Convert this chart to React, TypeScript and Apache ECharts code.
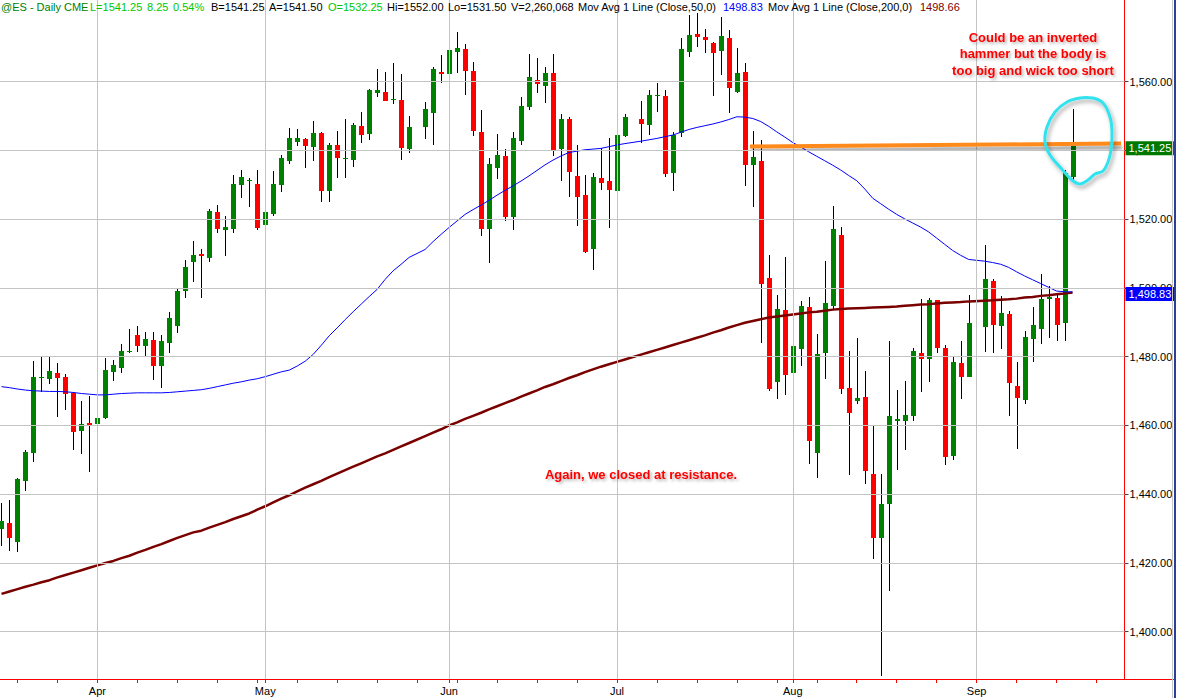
import React, { useEffect, useRef } from "react";
import * as echarts from "echarts";

// ---------- DATA ----------
const START_DATE = "2007-03-15";
const SLOT_COUNT = 141; // weekday slots on the time axis (incl. empty right margin)
const HOLIDAYS = ["2007-05-28", "2007-07-04", "2007-09-03"]; // empty slots (null data)
const MONTH_NAMES = ["Jan", "Feb", "Mar", "Apr", "May", "Jun", "Jul", "Aug", "Sep", "Oct", "Nov", "Dec"];
const PRICE_TICKS = [1400, 1420, 1440, 1460, 1480, 1500, 1520, 1540, 1560];

const opens = [
  1429.9, 1431.7, 1426.2, 1443.9, 1452.1, 1473.7, 1473.6, 1475.3, 1474.1, 1469.5, 1458.5, 1460.7,
  1460.4, 1462.1, 1475.6, 1476.8, 1481.4, 1486.3, 1483.2, 1484.9, 1477.4, 1484.1,
  1489.0, 1499.0, 1507.6, 1509.8, 1508.8, 1522.1, 1516.9, 1517.1, 1529.9, 1531.2,
  1530.2, 1518.4, 1521.5, 1529.9, 1537.0, 1542.5, 1543.3, 1541.1, 1545.1, 1528.3,
  1541.6, 1537.5, 1537.2, 1547.1, 1544.8, 1556.8, 1557.0, 1554.8, 1554.7, 1540.5,
  null, 1546.9, 1551.0, 1562.8, 1562.2, 1568.7, 1569.5, 1563.1, 1545.4, 1517.1,
  1535.0, 1538.4, 1520.7, 1542.8, 1552.6, 1560.5, 1558.8, 1562.4, 1540.5, 1549.2,
  1532.7, 1527.1, 1511.3, 1531.9, 1531.1, 1528.3, 1544.2, null, 1549.2, 1547.4,
  1555.8, 1555.8, 1533.5, 1545.0, 1568.7, 1573.9, 1573.0, 1571.3, 1569.0, 1572.8,
  1557.1, 1562.9, 1535.8, 1536.9, 1503.0, 1472.6, 1493.6, 1475.3, 1482.3, 1494.5,
  1452.1, 1481.2, 1494.7, 1515.4, 1470.8, 1467.2, 1468.3, 1445.9, 1427.2, 1437.1,
  1461.4, 1461.4, 1462.8, 1481.1, 1479.4, 1496.5, 1482.6, 1451.1, 1478.3, 1474.2,
  null, 1488.7, 1502.0, 1489.0, 1492.4, 1471.6, 1467.4, 1485.1, 1488.0, 1496.8,
  1497.2, 1489.9, 1532.25,
];
const highs = [
  1437.4, 1438.3, 1444.8, 1452.9, 1478.7, 1480.0, 1480.0, 1478.3, 1475.0, 1469.8, 1467.2, 1468.6,
  1464.9, 1479.5, 1479.0, 1483.7, 1488.0, 1488.9, 1487.3, 1487.3, 1486.3, 1493.0,
  1500.0, 1508.0, 1513.7, 1511.2, 1522.9, 1524.1, 1520.9, 1532.9, 1534.3, 1532.1,
  1534.3, 1522.5, 1534.0, 1538.7, 1546.4, 1546.2, 1543.5, 1548.6, 1545.5, 1542.3,
  1545.7, 1549.1, 1548.1, 1551.2, 1557.9, 1563.7, 1562.7, 1565.4, 1562.2, 1550.0,
  null, 1554.2, 1564.4, 1567.8, 1572.9, 1574.5, 1571.0, 1565.6, 1551.8, 1537.7,
  1544.8, 1540.4, 1545.4, 1555.6, 1568.0, 1566.8, 1564.4, 1568.1, 1550.6, 1549.6,
  1541.6, 1532.9, 1533.4, 1540.6, 1543.5, 1546.2, 1550.6, null, 1554.4, 1557.6,
  1559.5, 1557.6, 1545.5, 1572.6, 1579.4, 1579.9, 1575.2, 1571.6, 1578.9, 1575.0,
  1569.7, 1565.5, 1545.7, 1543.0, 1509.6, 1497.9, 1508.9, 1488.1, 1496.3, 1497.4,
  1486.6, 1507.8, 1523.8, 1517.6, 1481.7, 1485.5, 1475.8, 1459.8, 1445.9, 1484.6,
  1470.3, 1472.9, 1482.6, 1496.8, 1497.0, 1496.6, 1483.4, 1480.2, 1484.6, 1498.0,
  null, 1512.5, 1502.6, 1497.7, 1493.4, 1478.4, 1487.5, 1494.4, 1504.1, 1500.5,
  1498.0, 1534.3, 1552.0,
];
const lows = [
  1424.9, 1423.6, 1423.1, 1441.0, 1449.4, 1469.8, 1472.1, 1462.5, 1464.5, 1452.9, 1451.7, 1446.5,
  1454.4, 1461.8, 1473.0, 1475.2, 1481.0, 1481.5, 1480.0, 1473.2, 1471.0, 1481.2,
  1487.0, 1497.0, 1501.8, 1497.0, 1507.6, 1515.9, 1509.4, 1515.9, 1526.3, 1523.6,
  1516.9, 1511.3, 1521.0, 1528.0, 1536.1, 1541.3, 1535.0, 1537.0, 1525.1, 1525.1,
  1532.1, 1532.1, 1535.3, 1542.3, 1543.0, 1555.6, 1554.4, 1553.4, 1537.2, 1539.3,
  null, 1543.3, 1541.6, 1559.7, 1561.9, 1562.6, 1556.1, 1544.2, 1515.1, 1507.3,
  1531.7, 1519.6, 1516.9, 1541.6, 1551.8, 1556.8, 1553.9, 1538.4, 1531.2, 1526.5,
  1518.0, 1510.1, 1505.2, 1528.5, 1517.4, 1528.0, 1544.0, null, 1542.3, 1544.5,
  1551.3, 1532.2, 1528.3, 1544.0, 1567.1, 1570.0, 1568.4, 1555.8, 1561.9, 1550.8,
  1556.8, 1529.7, 1523.6, 1483.9, 1470.1, 1467.8, 1468.9, 1454.8, 1477.4, 1448.8,
  1444.8, 1473.5, 1493.8, 1469.2, 1445.6, 1466.2, 1442.9, 1421.1, 1387.0, 1411.9,
  1447.0, 1452.9, 1461.4, 1469.8, 1472.7, 1481.0, 1448.5, 1449.9, 1467.8, 1474.0,
  null, 1481.5, 1481.2, 1482.3, 1462.8, 1453.2, 1466.2, 1478.5, 1483.7, 1485.4,
  1484.6, 1484.6, 1531.5,
];
const closes = [
  1432.2, 1427.3, 1444.4, 1452.3, 1474.1, 1474.0, 1475.8, 1473.9, 1469.3, 1458.2, 1460.4, 1459.8,
  1462.3, 1476.1, 1477.7, 1481.7, 1481.7, 1483.2, 1485.2, 1477.4, 1484.6, 1491.2,
  1499.0, 1506.0, 1509.6, 1509.4, 1522.4, 1517.1, 1517.7, 1530.2, 1532.3, 1531.5,
  1517.5, 1522.2, 1530.2, 1537.9, 1543.6, 1543.6, 1541.4, 1545.1, 1528.3, 1541.6,
  1537.9, 1537.8, 1547.4, 1544.6, 1557.6, 1557.6, 1554.5, 1555.0, 1540.8, 1546.7,
  null, 1552.1, 1563.7, 1562.3, 1569.2, 1569.8, 1563.2, 1545.7, 1517.1, 1536.1,
  1538.7, 1520.7, 1543.7, 1552.9, 1561.5, 1559.3, 1562.6, 1540.1, 1549.2, 1533.8,
  1526.5, 1510.5, 1532.4, 1530.4, 1528.5, 1544.5, 1549.8, null, 1547.8, 1556.1,
  1556.0, 1533.1, 1544.5, 1569.4, 1573.6, 1573.1, 1572.1, 1568.3, 1573.4, 1558.2,
  1562.6, 1535.8, 1538.2, 1501.1, 1470.6, 1493.9, 1474.8, 1483.2, 1494.7, 1455.6,
  1480.8, 1495.5, 1517.1, 1470.6, 1463.7, 1467.9, 1446.8, 1427.2, 1437.1, 1462.7,
  1461.8, 1463.0, 1481.7, 1479.4, 1496.5, 1482.6, 1450.9, 1478.4, 1474.2, 1489.7,
  null, 1502.6, 1489.2, 1492.8, 1472.4, 1468.1, 1485.7, 1489.2, 1496.7, 1497.5,
  1489.2, 1533.3, 1541.25,
];
const ma50 = [
  1471.3, 1471.0, 1470.6, 1470.3, 1470.1, 1470.0, 1469.9, 1469.9, 1469.8, 1469.6, 1469.3, 1469.1,
  1468.9, 1468.9, 1469.1, 1469.3, 1469.4, 1469.5, 1469.5, 1469.5, 1469.5, 1469.6,
  1469.8, 1470.0, 1470.2, 1470.4, 1470.8, 1471.3, 1471.8, 1472.3, 1472.7, 1473.2,
  1473.6, 1474.2, 1474.9, 1475.6, 1476.1, 1477.3, 1478.7, 1480.7, 1483.3, 1486.1,
  1488.4, 1490.8, 1493.1, 1495.3, 1497.5, 1499.6, 1502.5, 1505.0, 1506.9, 1508.9,
  null, 1511.2, 1513.5, 1515.6, 1517.6, 1519.5, 1521.4, 1522.8, 1524.1, 1525.5,
  1527.0, 1528.4, 1529.7, 1531.1, 1532.6, 1534.2, 1535.8, 1537.2, 1538.4, 1539.4,
  1539.8, 1540.2, 1540.4, 1540.6, 1541.1, 1541.6, 1542.0, null, 1542.7, 1543.1,
  1543.5, 1544.0, 1544.5, 1545.3, 1546.1, 1546.7, 1547.2, 1547.7, 1548.3, 1549.0,
  1549.8, 1549.7, 1549.3, 1548.4, 1547.0, 1545.4, 1543.9, 1542.3, 1541.0, 1539.6,
  1538.3, 1537.0, 1535.7, 1534.3, 1532.7, 1531.2, 1528.8, 1526.1, 1524.5, 1522.9,
  1521.4, 1520.1, 1518.9, 1517.7, 1516.3, 1514.5, 1512.7, 1510.9, 1509.5, 1508.3,
  null, 1507.8, 1507.4, 1506.9, 1506.0, 1504.7, 1503.5, 1502.4, 1501.3, 1500.2,
  1499.1, 1498.9, 1498.83,
];
const ma200 = [
  1411.0, 1411.7, 1412.4, 1413.1, 1413.7, 1414.4, 1415.0, 1415.8, 1416.5, 1417.2, 1417.9, 1418.6,
  1419.3, 1420.0, 1420.6, 1421.4, 1422.1, 1423.0, 1423.8, 1424.7, 1425.5, 1426.4,
  1427.3, 1428.1, 1428.9, 1429.4, 1430.3, 1431.1, 1431.9, 1432.8, 1433.6, 1434.4,
  1435.5, 1436.5, 1437.6, 1438.7, 1439.7, 1440.8, 1441.9, 1442.9, 1443.9, 1445.0,
  1446.0, 1447.0, 1448.0, 1449.0, 1450.0, 1451.0, 1451.9, 1452.9, 1453.9, 1454.9,
  null, 1456.9, 1457.9, 1458.9, 1460.0, 1460.9, 1461.9, 1462.8, 1463.7, 1464.7,
  1465.6, 1466.5, 1467.4, 1468.4, 1469.3, 1470.2, 1471.2, 1472.0, 1472.9, 1473.8,
  1474.6, 1475.5, 1476.3, 1477.1, 1477.8, 1478.5, 1479.2, null, 1480.6, 1481.3,
  1482.0, 1482.7, 1483.4, 1484.1, 1484.8, 1485.5, 1486.2, 1487.0, 1487.7, 1488.5,
  1489.2, 1489.9, 1490.4, 1490.9, 1491.4, 1491.7, 1492.0, 1492.3, 1492.6, 1492.9,
  1493.1, 1493.4, 1493.7, 1493.9, 1494.0, 1494.1, 1494.2, 1494.3, 1494.4, 1494.5,
  1494.6, 1494.8, 1495.0, 1495.2, 1495.3, 1495.5, 1495.7, 1495.8, 1495.9, 1496.1,
  null, 1496.3, 1496.4, 1496.6, 1496.7, 1496.9, 1497.2, 1497.4, 1497.7, 1497.9,
  1498.2, 1498.4, 1498.66,
];

const headerParts = [
  { x: 1, text: "@ES - Daily", color: "#008000" },
  { x: 64, text: "CME", color: "#008000" },
  { x: 90, text: "L=1541.25", color: "#00c800" },
  { x: 147, text: "8.25", color: "#00c800" },
  { x: 173, text: "0.54%", color: "#00c800" },
  { x: 211, text: "B=1541.25", color: "#000000" },
  { x: 269, text: "A=1541.50", color: "#000000" },
  { x: 328, text: "O=1532.25", color: "#00c800" },
  { x: 387, text: "Hi=1552.00", color: "#000000" },
  { x: 448, text: "Lo=1531.50", color: "#000000" },
  { x: 511, text: "V=2,260,068", color: "#000000" },
  { x: 578, text: "Mov Avg 1 Line (Close,50,0)", color: "#000000" },
  { x: 723, text: "1498.83", color: "#0000ff" },
  { x: 768, text: "Mov Avg 1 Line (Close,200,0)", color: "#000000" },
  { x: 920, text: "1498.66", color: "#800000" },
];
const noteLines = ["Could be an inverted", "hammer but the body is", "too big and wick too short"];
const note2 = "Again, we closed at resistance.";

// ---------- helpers ----------
function buildCategories(): string[] {
  const out: string[] = [];
  const d = new Date(START_DATE + "T00:00:00Z");
  while (out.length < SLOT_COUNT) {
    const wd = d.getUTCDay();
    if (wd !== 0 && wd !== 6) out.push(d.toISOString().slice(0, 10));
    d.setUTCDate(d.getUTCDate() + 1);
  }
  return out;
}
const categories = buildCategories();
const monthOf = (s: string) => Number(s.slice(5, 7));
const isMonthStart = (i: number) => i > 0 && monthOf(categories[i]) !== monthOf(categories[i - 1]);
const isMonday = (s: string) => new Date(s + "T00:00:00Z").getUTCDay() === 1;
const pad = (arr: (number | null)[]) => categories.map((_, i) => (i < arr.length ? arr[i] : null));
const fmt = (v: number) => v.toLocaleString("en-US", { minimumFractionDigits: 2, maximumFractionDigits: 2 });

const FONT = "'Liberation Sans', Arial, sans-serif";

export default function App() {
  const ref = useRef<HTMLDivElement>(null);
  useEffect(() => {
    if (!ref.current) return;
    const chart = echarts.init(ref.current, null, { renderer: "svg" });
    const candleData: number[][] = [];
    opens.forEach((o, i) => {
      if (o != null && !HOLIDAYS.includes(categories[i])) candleData.push([i, o, closes[i] as number, lows[i] as number, highs[i] as number]);
    });
    const lastClose = closes[closes.length - 1] as number;
    const lastMa50 = ma50[ma50.length - 1] as number;
    const monthStarts = categories.filter((_, i) => isMonthStart(i));

    const headerGraphics = headerParts.map((p) => ({
      type: "text",
      x: p.x,
      y: 7,
      z: 100,
      style: { text: p.text, fill: p.color, font: `11px ${FONT}`, textVerticalAlign: "middle", verticalAlign: "middle" },
    }));
    const shadow = { textShadowColor: "rgba(0,0,0,0.3)", textShadowBlur: 3, textShadowOffsetX: 2, textShadowOffsetY: 2 };
    const noteGraphics = noteLines.map((t, i) => ({
      type: "text",
      x: 1033,
      y: 37 + i * 16.5,
      z: 100,
      style: {
        text: t, fill: "#ff0000", font: `bold 13px ${FONT}`,
        textAlign: "center", align: "center", textVerticalAlign: "middle", verticalAlign: "middle", ...shadow,
      },
    }));
    const tagLabel = (text: string, bg: string) => ({
      show: true, position: "end", formatter: text, color: "#ffffff", opacity: 1,
      backgroundColor: bg, padding: [2, 3, 1, 3], fontSize: 11, fontFamily: FONT, distance: 1, offset: [0, 2],
    });

    const option: any = {
      animation: false,
      backgroundColor: "#ffffff",
      grid: { left: -2.5, top: 0, width: 1127, height: 679, containLabel: false, outerBoundsMode: "none" },
      xAxis: {
        type: "category",
        data: categories,
        boundaryGap: true,
        axisLine: { show: true, lineStyle: { color: "#ff0000", width: 1 } },
        axisTick: {
          show: true,
          alignWithLabel: true,
          length: 4,
          interval: (i: number, v: string) => isMonday(v) || isMonthStart(i),
          lineStyle: { color: "#ff0000" },
        },
        axisLabel: {
          interval: (i: number) => isMonthStart(i),
          formatter: (v: string) => MONTH_NAMES[monthOf(v) - 1],
          color: "#000",
          fontSize: 11,
          fontFamily: FONT,
          margin: 6,
        },
        splitLine: { show: false },
      },
      yAxis: {
        type: "value",
        position: "right",
        scale: true,
        min: 1386.25,
        max: 1583.77,
        axisLine: { show: true, lineStyle: { color: "#ff0000", width: 1 } },
        axisTick: { show: true, length: 4, customValues: PRICE_TICKS, lineStyle: { color: "#444" } },
        axisLabel: {
          customValues: PRICE_TICKS,
          formatter: (v: number) => fmt(v),
          color: "#000",
          fontSize: 11,
          fontFamily: FONT,
          margin: 5,
        },
        splitLine: { show: false },
      },
      series: [
        {
          type: "line",
          name: "grid",
          data: categories.map(() => null),
          z: 1,
          silent: true,
          symbol: "none",
          markLine: {
            silent: true,
            symbol: ["none", "none"],
            animation: false,
            label: { show: false },
            lineStyle: { color: "#c4c4c4", width: 1, type: "solid" },
            emphasis: { disabled: true },
            data: [
              ...PRICE_TICKS.map((v) => ({ yAxis: v })),
              ...monthStarts.map((c) => ({ xAxis: c })),
            ],
          },
        },
        {
          type: "custom",
          name: "ES",
          z: 2,
          clip: true,
          data: candleData,
          encode: { x: 0, y: [1, 2, 3, 4] },
          renderItem: (params: any, api: any) => {
            const i = api.value(0);
            const o = api.value(1), c = api.value(2), l = api.value(3), h = api.value(4);
            const pO = api.coord([i, o]);
            const x = Math.round(pO[0]);
            const yC = api.coord([i, c])[1];
            const yL = api.coord([i, l])[1];
            const yH = api.coord([i, h])[1];
            const top = Math.round(Math.min(pO[1], yC));
            const bot = Math.round(Math.max(pO[1], yC));
            return {
              type: "group",
              children: [
                { type: "line", shape: { x1: x + 0.5, y1: Math.round(yH), x2: x + 0.5, y2: Math.round(yL) }, style: { stroke: "#000", lineWidth: 1 } },
                { type: "rect", shape: { x: x - 2, y: top, width: 5, height: Math.max(1, bot - top) }, style: { fill: c >= o ? "#008000" : "#ff0000" } },
              ],
            };
          },
        },
        {
          type: "line",
          name: "MA200",
          data: pad(ma200),
          z: 3,
          symbol: "none",
          connectNulls: true,
          silent: true,
          lineStyle: { color: "#7a0000", width: 2.5 },
        },
        {
          type: "line",
          name: "MA50",
          data: pad(ma50),
          z: 4,
          symbol: "none",
          connectNulls: true,
          silent: true,
          lineStyle: { color: "#0000ff", width: 1 },
        },
        {
          type: "line",
          name: "tag50",
          data: categories.map(() => null),
          z: 5,
          symbol: "none",
          silent: true,
          markLine: {
            silent: true,
            symbol: ["none", "none"],
            animation: false,
            lineStyle: { color: "rgba(0,0,0,0)", width: 0 },
            label: tagLabel(fmt(lastMa50), "#0000ff"),
            data: [{ yAxis: lastMa50 }],
          },
        },
        {
          type: "line",
          name: "tagLast",
          data: categories.map(() => null),
          z: 5,
          symbol: "none",
          silent: true,
          markLine: {
            silent: true,
            symbol: ["none", "none"],
            animation: false,
            lineStyle: { color: "rgba(0,0,0,0)", width: 0 },
            label: tagLabel(fmt(lastClose), "#007800"),
            data: [{ yAxis: lastClose }],
          },
        },
      ],
      graphic: [
        ...headerGraphics,
        ...noteGraphics,
        {
          type: "text", x: 641, y: 474, z: 100,
          style: {
            text: note2, fill: "#ff0000", font: `bold 13px ${FONT}`,
            textAlign: "center", align: "center", textVerticalAlign: "middle", verticalAlign: "middle", ...shadow,
          },
        },
        {
          type: "line", z: 90,
          shape: { x1: 750, y1: 146.5, x2: 1121, y2: 143.5 },
          style: { stroke: "#ff8a1e", lineWidth: 4, shadowColor: "rgba(0,0,0,0.35)", shadowBlur: 3, shadowOffsetX: 1, shadowOffsetY: 4 },
        },
        {
          type: "polyline", z: 95,
          shape: {
            smooth: 0.4,
            points: [
              [1093, 98], [1103, 103], [1110, 117], [1112, 133], [1111, 150], [1108, 162], [1103, 171],
              [1095, 174], [1088, 180], [1080, 184], [1072, 180], [1060, 167], [1050, 155], [1045, 142],
              [1047, 127], [1055, 112], [1067, 102], [1080, 98], [1093, 98],
            ],
          },
          style: { stroke: "#33e3ee", lineWidth: 3, fill: null, shadowColor: "rgba(0,0,0,0.35)", shadowBlur: 4, shadowOffsetX: 2, shadowOffsetY: 3 },
        },
        { type: "line", z: 50, shape: { x1: 1124, y1: 679.5, x2: 1174, y2: 679.5 }, style: { stroke: "#ff0000", lineWidth: 1 } },
        { type: "line", z: 50, shape: { x1: 1172.5, y1: 0, x2: 1172.5, y2: 698 }, style: { stroke: "#c8c8c8", lineWidth: 1 } },
        { type: "line", z: 50, shape: { x1: 1175, y1: 0, x2: 1175, y2: 698 }, style: { stroke: "#2b3f94", lineWidth: 2 } },
      ],
    };
    chart.setOption(option);
    return () => chart.dispose();
  }, []);
  return (
    <div
      ref={ref}
      style={{ position: "absolute", left: 0, top: 0, width: 1177, height: 698, background: "#ffffff" }}
    />
  );
}
